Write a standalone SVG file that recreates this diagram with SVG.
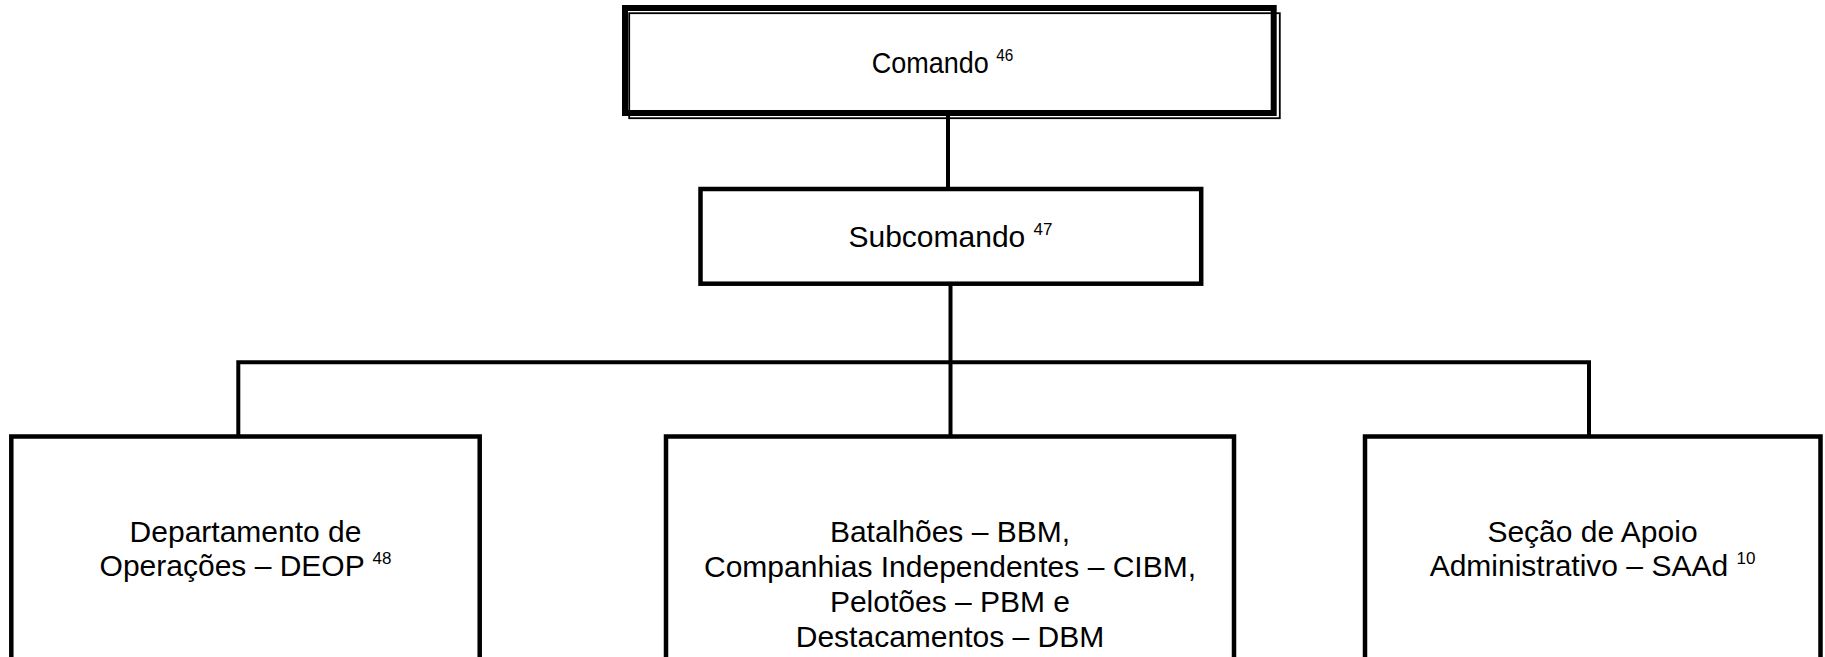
<svg xmlns="http://www.w3.org/2000/svg" width="1825" height="657" viewBox="0 0 1825 657">
<style>
  .box { fill: #ffffff; stroke: #000000; stroke-width: 4.5; }
  .thick { fill: #ffffff; stroke: #000000; stroke-width: 6; }
  .thin { fill: none; stroke: #000000; stroke-width: 1.8; }
  .conn { fill: none; stroke: #000000; stroke-width: 4; }
  text { font-family: "Liberation Sans", Arial, sans-serif; font-size: 30px; fill: #000000; text-anchor: middle; }
  .sup { font-size: 17px; }
</style>
<rect width="1825" height="657" fill="#ffffff"/>
<g id="connectors">
  <line class="conn" x1="948" y1="116" x2="948" y2="188"/>
  <line class="conn" x1="950.5" y1="285" x2="950.5" y2="436"/>
  <polyline class="conn" points="238.3,436 238.3,362.3 1589,362.3 1589,436"/>
</g>
<g id="comando">
  <rect class="thick" x="625" y="8" width="648.7" height="105"/>
  <rect class="thin" x="629.2" y="13.2" width="650.6" height="105"/>
  <text x="0" y="0" transform="translate(942.5,72.5) scale(0.9,1)">Comando <tspan class="sup" dy="-12">46</tspan></text>
</g>
<g id="subcomando">
  <rect class="box" x="700.5" y="189" width="500.7" height="94.7"/>
  <text x="950.5" y="247.3">Subcomando <tspan class="sup" dy="-12">47</tspan></text>
</g>
<g id="deop">
  <rect class="box" x="11.3" y="436.5" width="468.4" height="260"/>
  <text x="245.5" y="541.5">Departamento de</text>
  <text x="245.5" y="576">Operações – DEOP <tspan class="sup" dy="-12">48</tspan></text>
</g>
<g id="batalhoes">
  <rect class="box" x="666" y="436.5" width="568" height="260"/>
  <text x="950" y="541.5">Batalhões – BBM,</text>
  <text x="950" y="576.5">Companhias Independentes – CIBM,</text>
  <text x="950" y="611.5">Pelotões – PBM e</text>
  <text x="950" y="646.5">Destacamentos – DBM</text>
</g>
<g id="saad">
  <rect class="box" x="1365" y="436.5" width="455.5" height="260"/>
  <text x="1592.5" y="541.5">Seção de Apoio</text>
  <text x="1592.5" y="576">Administrativo – SAAd <tspan class="sup" dy="-12">10</tspan></text>
</g>
</svg>
